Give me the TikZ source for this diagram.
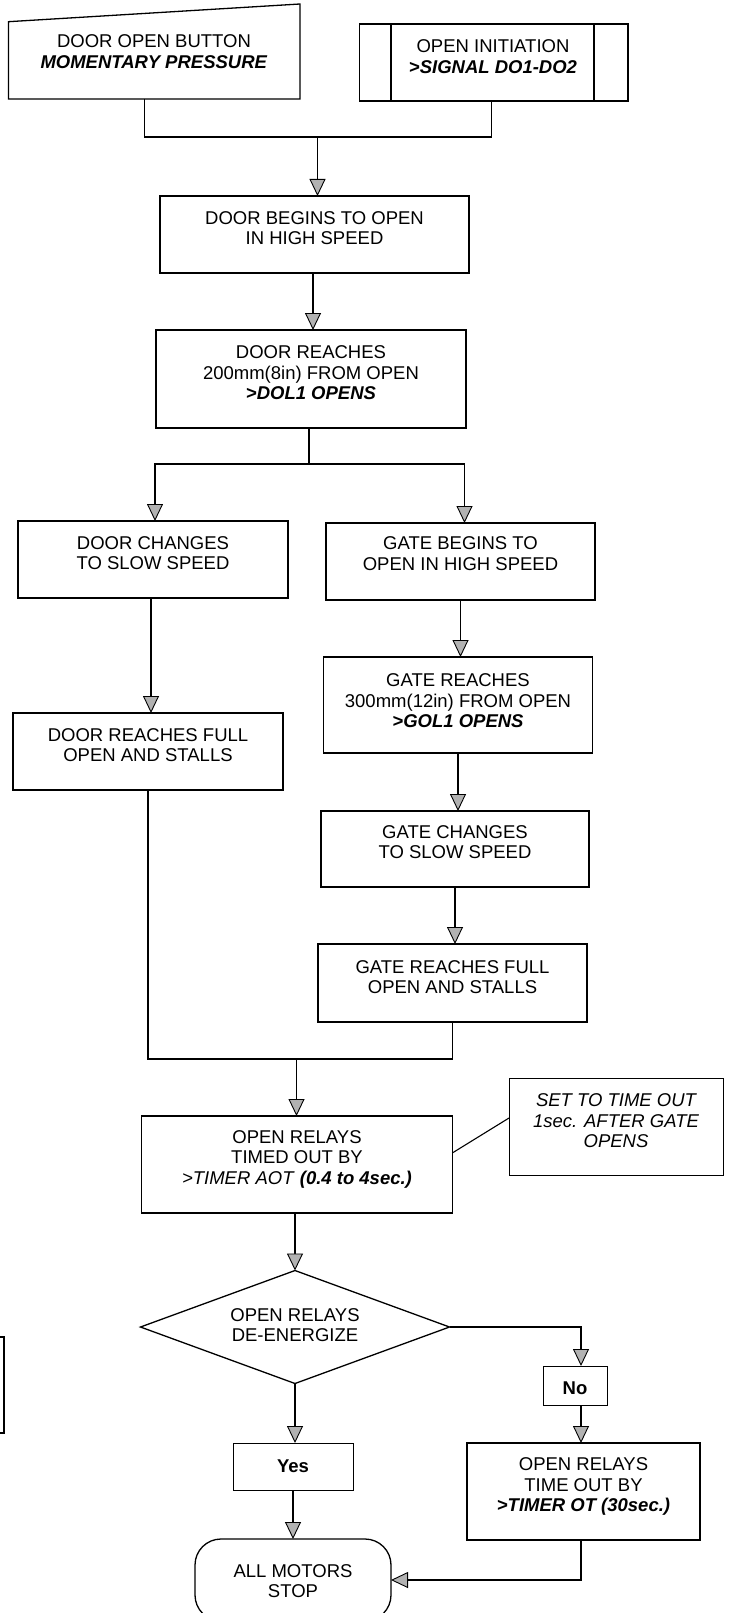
\documentclass[tikz,border=0pt]{standalone}
\usepackage{fontspec}
\setmainfont{Liberation Sans}
\usetikzlibrary{arrows.meta,shapes.geometric}
\newcommand{\bi}[1]{\textbf{\textit{#1}}}
\begin{document}
\begin{tikzpicture}[x=1pt,y=-1pt,
  box/.style={draw,line width=1.3pt,inner sep=0pt,outer sep=0pt},
  ghost/.style={inner sep=0pt,outer sep=0pt},
  txt/.style={align=center,inner sep=0pt,font=\fontsize{18.5}{20.5}\selectfont},
  conn/.style={line width=1.1pt},
  arr/.style={conn,-{Triangle[width=16pt,length=17pt,fill=gray!60,line width=0.9pt]}},
]
\clip (0,0) rectangle (732,1613);
\fill[white] (0,0) rectangle (732,1613);

% top inputs
\node[ghost,minimum width=291.6pt,minimum height=77.3pt] (btn) at (154.2,60.35) {};
\draw[line width=1.3pt] (btn.south west) -- (btn.north west) -- ([yshift=17.7pt]btn.north east) -- (btn.south east) -- cycle;
\node[txt] (btnt) at (154,51.7) {DOOR OPEN BUTTON\\\bi{MOMENTARY PRESSURE}};

\node[box,minimum width=268.5pt,minimum height=77pt] (oi) at (493.75,62.5) {};
\draw[line width=1.3pt] ([xshift=31.5pt]oi.north west) -- ([xshift=31.5pt]oi.south west)
  ([xshift=-34pt]oi.north east) -- ([xshift=-34pt]oi.south east);
\node[txt] (oit) at (493,56.7) {OPEN INITIATION\\\bi{>SIGNAL DO1-DO2}};

% process boxes
\node[box,minimum width=309pt,minimum height=77pt] (b1) at (314.5,234.5) {};
\node[txt] (b1t) at (314.5,228) {DOOR BEGINS TO OPEN\\IN HIGH SPEED};

\node[box,minimum width=310pt,minimum height=98pt] (b2) at (311,379) {};
\node[txt] (b2t) at (311,373) {DOOR REACHES\\200mm(8in) FROM OPEN\\\bi{>DOL1 OPENS}};

\node[box,minimum width=270pt,minimum height=77pt] (b3) at (153,559.5) {};
\node[txt] (b3t) at (153,553) {DOOR CHANGES\\TO SLOW SPEED};

\node[box,minimum width=269pt,minimum height=77pt] (b4) at (460.5,561.5) {};
\node[txt] (b4t) at (460.5,553.5) {GATE BEGINS TO\\OPEN IN HIGH SPEED};

\node[box,minimum width=270pt,minimum height=77pt] (b5) at (148,751.5) {};
\node[txt] (b5t) at (148,745) {DOOR REACHES FULL\\OPEN AND STALLS};

\node[box,minimum width=268.5pt,minimum height=96pt] (b6) at (458,705) {};
\node[txt] (b6t) at (458,701) {GATE REACHES\\300mm(12in) FROM OPEN\\\bi{>GOL1 OPENS}};

\node[box,minimum width=268pt,minimum height=76pt] (b7) at (455,849) {};
\node[txt] (b7t) at (455,842) {GATE CHANGES\\TO SLOW SPEED};

\node[box,minimum width=269pt,minimum height=78pt] (b8) at (452.5,983) {};
\node[txt] (b8t) at (452.5,977) {GATE REACHES FULL\\OPEN AND STALLS};

\node[box,minimum width=310.5pt,minimum height=97pt] (b9) at (297,1164.5) {};
\node[txt] (b9t) at (297,1159) {OPEN RELAYS\\TIMED OUT BY\\\textit{>TIMER AOT} \bi{(0.4 to 4sec.)}};

\node[box,line width=1pt,minimum width=214pt,minimum height=97pt] (note) at (616,1126.5) {};
\node[txt,font=\fontsize{18.5}{20.5}\selectfont\itshape] (notet) at (616,1121) {SET TO TIME OUT\\1sec. AFTER GATE\\OPENS};

\node[box,diamond,minimum width=309pt,minimum height=113pt] (dia) at (295,1327) {};
\node[txt] (diat) at (295,1325) {OPEN RELAYS\\DE-ENERGIZE};

\node[box,line width=1pt,minimum width=64pt,minimum height=39pt] (no) at (575,1385.5) {};
\node[txt] (not) at (575,1388) {\textbf{No}};

\node[box,line width=1pt,minimum width=120pt,minimum height=47pt] (yes) at (293,1466.5) {};
\node[txt] (yest) at (293,1466) {\textbf{Yes}};

\node[box,minimum width=233pt,minimum height=97pt] (ot) at (583.5,1491.5) {};
\node[txt] (ott) at (583.5,1486.5) {OPEN RELAYS\\TIME OUT BY\\\bi{>TIMER OT (30sec.)}};

\node[box,rounded corners=26pt,minimum width=196pt,minimum height=82pt] (term) at (293,1580) {};
\node[txt] (termt) at (293,1581) {ALL MOTORS\\STOP};

% fragment at left edge
\draw[line width=1.2pt] (0,1337) -- (4,1337) -- (4,1433) -- (0,1433);

% connectors
\coordinate (j1) at (317.5,137);
\draw[conn] ([xshift=-10pt]btn.south) |- ([xshift=-2pt]oi.south |- j1) -- ([xshift=-2pt]oi.south);
\draw[arr] (j1) -- (j1 |- b1.north);
\draw[arr] ([xshift=-1.5pt]b1.south) -- ([xshift=-1.5pt]b1.south |- b2.north);
\coordinate (j2) at (309,464);
\draw[conn] ([xshift=-2pt]b2.south) -- (j2);
\draw[arr] (j2) -| ([xshift=2pt]b3.north);
\draw[arr] (j2) -| ([xshift=4pt]b4.north);
\draw[arr] ([xshift=-2pt]b3.south) -- ([xshift=-2pt]b3.south |- b5.north);
\draw[arr] (b4.south) -- (b4.south |- b6.north);
\draw[arr] (b6.south) -- (b6.south |- b7.north);
\draw[arr] (b7.south) -- (b7.south |- b8.north);
\coordinate (j3) at (296.5,1059);
\draw[conn] (b5.south) |- (b8.south |- j3) -- (b8.south);
\draw[arr] (j3) -- (j3 |- b9.north);
\draw[arr] (b9.south -| dia.north) -- (dia.north);
\draw[conn] ([yshift=11.5pt]b9.east) -- ([yshift=8.5pt]note.west);
\draw[arr] (dia.east) -| ([xshift=6pt]no.north);
\draw[arr] ([xshift=6pt]no.south) -- ([xshift=6pt]no.south |- ot.north);
\draw[arr] (dia.south) -- (dia.south |- yes.north);
\draw[arr] (yes.south) -- (yes.south |- term.north);
\draw[arr] ([xshift=-2.5pt]ot.south) |- (term.east);
\end{tikzpicture}
\end{document}
